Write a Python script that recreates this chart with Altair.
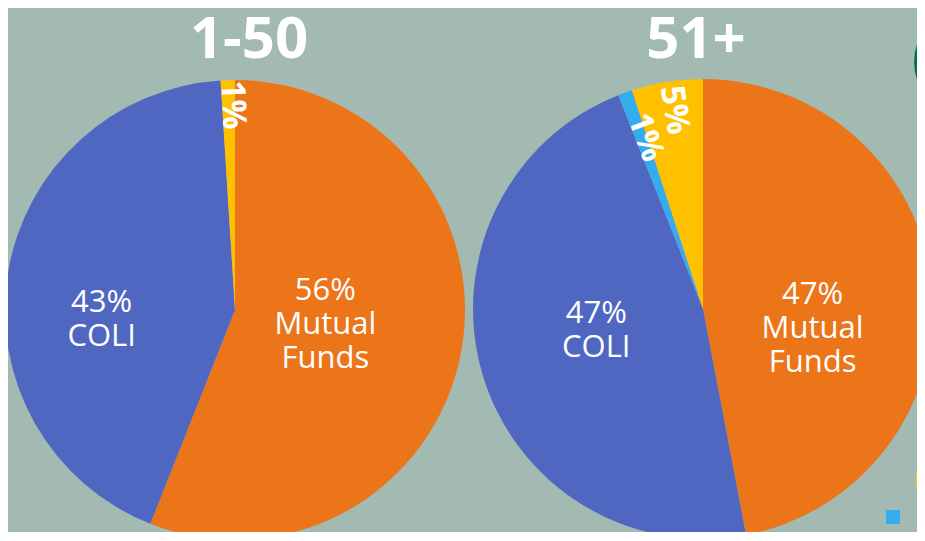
import altair as alt
import pandas as pd

# ---- data ----
titles = ["1-50", "51+"]

cats_1 = ["Mutual Funds", "COLI", "Other"]
vals_1 = [56, 43, 1]
labels_1 = ["56%\nMutual\nFunds", "43%\nCOLI", "1%"]

cats_2 = ["Mutual Funds", "COLI", "Other B", "Other"]
vals_2 = [47, 47, 1, 5]
labels_2 = ["47%\nMutual\nFunds", "47%\nCOLI", "1%", "5%"]

legend_cats = ["Other", "Other B"]

color_domain = ["Mutual Funds", "COLI", "Other B", "Other"]
color_range = ["#EC751A", "#4F67C1", "#35ACEE", "#FFC000"]

BG = "#A2BAB1"
FONT = "Open Sans"


def frame(cats, vals, labels):
    return pd.DataFrame({"cat": cats, "value": vals, "label": labels,
                         "order": list(range(len(cats)))})


df1 = frame(cats_1, vals_1, labels_1)
df2 = frame(cats_2, vals_2, labels_2)

color = alt.Color("cat:N", scale=alt.Scale(domain=color_domain, range=color_range),
                  legend=None)


def pie(df, cx, cy, r, label_specs):
    base = alt.Chart(df)
    arcs = base.mark_arc(radius=r, x=cx, y=cy, stroke=None).encode(
        theta=alt.Theta("value:Q", stack=True),
        color=color,
        order=alt.Order("order:Q"),
    )
    layers = [arcs]
    for cat, rad, ang, dx, dy, size, weight in label_specs:
        t = (
            base.transform_window(cum="sum(value)", sort=[alt.SortField("order")])
            .transform_calculate(mid="datum.cum - datum.value / 2")
            .transform_filter(alt.datum.cat == cat)
            .mark_text(radius=rad, x=cx, y=cy, angle=ang, dx=dx, dy=dy,
                       fontSize=size, fontWeight=weight, font=FONT, color="white",
                       lineBreak="\n", lineHeight=34, align="center",
                       baseline="middle")
            .encode(theta=alt.Theta("mid:Q", stack=False), text="label:N")
        )
        layers.append(t)
    return layers


pie1 = pie(df1, 227, 302, 230, [
    ("Mutual Funds", 91, 0, 1, -36, 31, "normal"),
    ("COLI", 133, 0, -2, 14, 31, "normal"),
    ("Other", 205, 88, 0, -4, 33, "bold"),
])

pie2 = pie(df2, 695, 301, 230, [
    ("Mutual Funds", 110, 0, 0, -4, 31, "normal"),
    ("COLI", 108, 0, -3, -25, 31, "normal"),
    ("Other B", 181, 70, 0, -4, 33, "bold"),
    ("Other", 201, 81, 0, -3, 33, "bold"),
])

title_layer = alt.Chart(pd.DataFrame({"title": titles})).mark_text(
    y=50, fontSize=58, fontWeight="bold", font=FONT, color="white",
    baseline="alphabetic", align="center"
).encode(
    x=alt.X("title:N", scale=alt.Scale(domain=titles, range=[241, 688], padding=0),
            axis=None),
    text="title:N",
)

circle = alt.Chart(pd.DataFrame({"k": [0]})).mark_circle(
    size=12500, color="#006B4F", opacity=1
).encode(x=alt.value(962), y=alt.value(54))

leg_df = pd.DataFrame({"cat": legend_cats})
leg_yellow = alt.Chart(leg_df).transform_filter(alt.datum.cat == "Other").mark_square(
    size=196, opacity=1
).encode(x=alt.value(915), y=alt.value(471), color=color)
leg_blue = alt.Chart(leg_df).transform_filter(alt.datum.cat == "Other B").mark_square(
    size=196, opacity=1
).encode(x=alt.value(885), y=alt.value(509), color=color)

chart = alt.layer(*pie1, *pie2, title_layer, circle, leg_yellow, leg_blue).properties(
    width=909, height=524,
    autosize=alt.AutoSizeParams(type="none"),
    padding=0,
    background=BG,
).configure_view(stroke=None)

chart.save("out.html", embed_options={"renderer": "svg", "actions": False})
